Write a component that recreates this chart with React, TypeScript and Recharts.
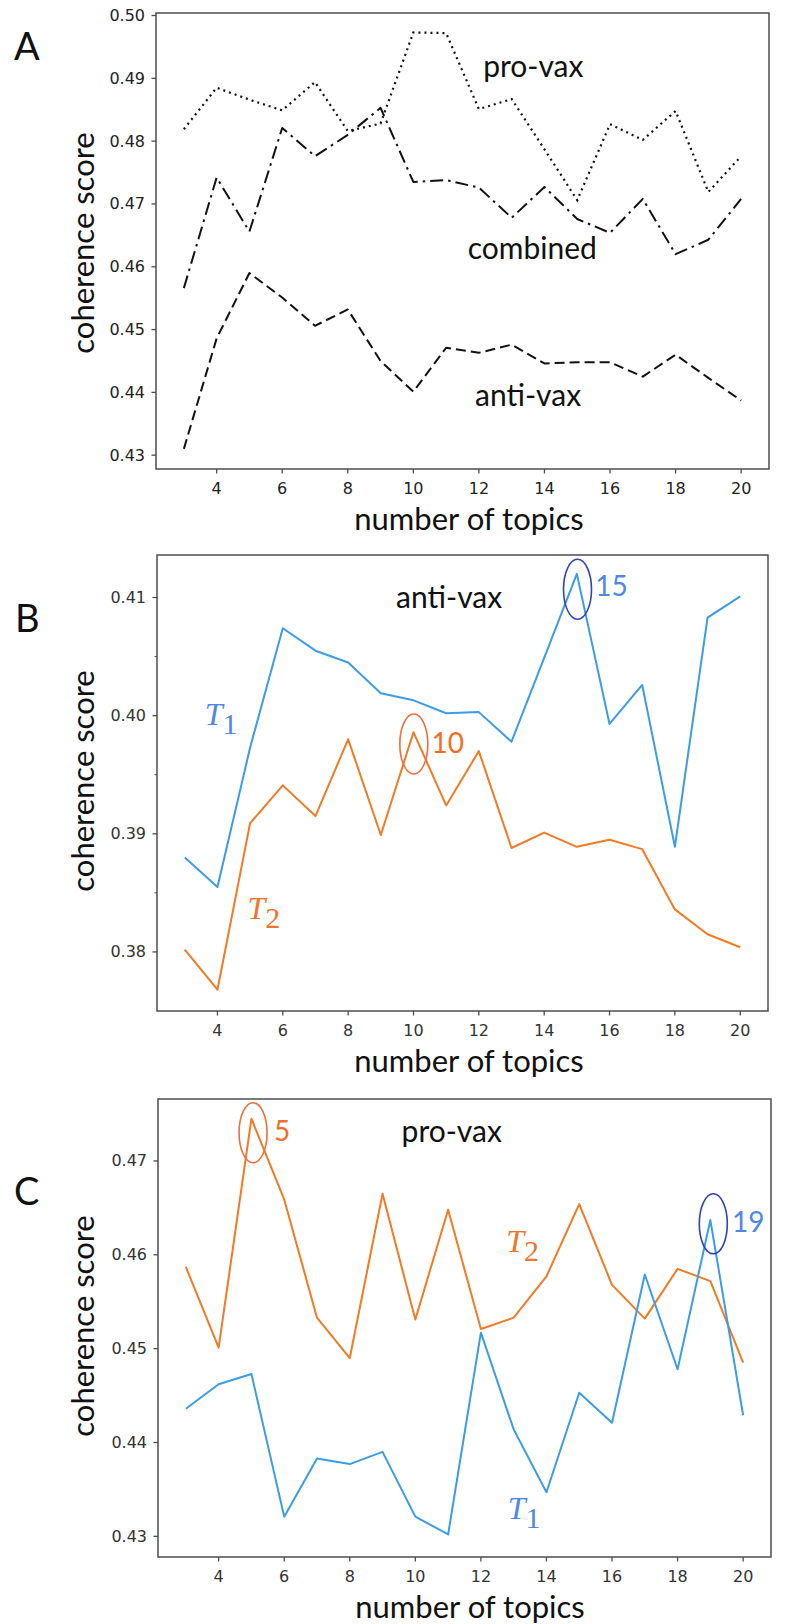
import { Line, LineChart, ReferenceArea, ReferenceDot, XAxis, YAxis } from "recharts";

// x values shared by all three panels
const topics = [3, 4, 5, 6, 7, 8, 9, 10, 11, 12, 13, 14, 15, 16, 17, 18, 19, 20];
const xTicks = [4, 6, 8, 10, 12, 14, 16, 18, 20];

// Panel A: coherence per corpus
const aProVax = [0.4819, 0.4885, 0.4866, 0.4849, 0.4894, 0.4816, 0.4828, 0.4973, 0.4972, 0.4851, 0.4867, 0.4787, 0.4706, 0.4827, 0.4802, 0.4848, 0.4719, 0.4776];
const aCombined = [0.4566, 0.4742, 0.4656, 0.4821, 0.4776, 0.4810, 0.4853, 0.4735, 0.4738, 0.4726, 0.4678, 0.4727, 0.4676, 0.4654, 0.4708, 0.4620, 0.4643, 0.4708];
const aAntiVax = [0.4310, 0.4486, 0.4590, 0.4551, 0.4506, 0.4532, 0.4450, 0.4401, 0.4471, 0.4463, 0.4476, 0.4446, 0.4448, 0.4448, 0.4425, 0.4460, 0.4423, 0.4387];
const aTicks = [0.43, 0.44, 0.45, 0.46, 0.47, 0.48, 0.49, 0.5];

// Panel B: anti-vax, T1 / T2
const bT1 = [0.3880, 0.3855, 0.3973, 0.4074, 0.4055, 0.4045, 0.4019, 0.4013, 0.4002, 0.4003, 0.3978, 0.4049, 0.4120, 0.3993, 0.4026, 0.3889, 0.4083, 0.4101];
const bT2 = [0.3802, 0.3768, 0.3909, 0.3941, 0.3915, 0.3980, 0.3899, 0.3986, 0.3924, 0.3970, 0.3888, 0.3901, 0.3889, 0.3895, 0.3887, 0.3836, 0.3815, 0.3804];
const bTicks = [0.38, 0.39, 0.4, 0.41];
const bMinorTicks = [0.385, 0.395, 0.405];

// Panel C: pro-vax, T1 / T2
const cT1 = [0.4436, 0.4462, 0.4473, 0.4321, 0.4383, 0.4377, 0.4390, 0.4321, 0.4302, 0.4517, 0.4414, 0.4347, 0.4453, 0.4421, 0.4579, 0.4478, 0.4637, 0.4429];
const cT2 = [0.4587, 0.4501, 0.4745, 0.4659, 0.4533, 0.4490, 0.4665, 0.4531, 0.4648, 0.4521, 0.4533, 0.4577, 0.4654, 0.4568, 0.4532, 0.4585, 0.4572, 0.4485];
const cTicks = [0.43, 0.44, 0.45, 0.46, 0.47];

const xDomain: [number, number] = [2.15, 20.85];
const spine = "#4d4d4d";
const blue = "#3d9ce6";
const orange = "#f27a24";
const labelFont = "Lato, 'Open Sans', sans-serif";

const aData = topics.map((t, i) => ({ t, pro: aProVax[i], comb: aCombined[i], anti: aAntiVax[i] }));
const bData = topics.map((t, i) => ({ t, t1: bT1[i], t2: bT2[i] }));
const cData = topics.map((t, i) => ({ t, t1: cT1[i], t2: cT2[i] }));

function XTick({ x, y, payload, color }: any) {
  return (
    <g>
      <line x1={x} y1={y} x2={x} y2={y + 4.5} stroke={spine} strokeWidth={1.3} />
      <text x={x} y={y + 19} textAnchor="middle" dominantBaseline="central" fontFamily="DejaVu Sans" fontSize={16} fill={color}>
        {payload.value}
      </text>
    </g>
  );
}

function YTick({ x, y, payload, color, minor }: any) {
  const isMinor = minor?.some((m: number) => Math.abs(m - payload.value) < 1e-6);
  if (isMinor) return <line x1={x} y1={y} x2={x - 2.5} y2={y} stroke={spine} strokeWidth={1} />;
  return (
    <g>
      <line x1={x} y1={y} x2={x - 4.5} y2={y} stroke={spine} strokeWidth={1.3} />
      <text x={x - 11} y={y} textAnchor="end" dominantBaseline="central" fontFamily="DejaVu Sans" fontSize={16} fill={color}>
        {Number(payload.value).toFixed(2)}
      </text>
    </g>
  );
}

const word = (text: string, color = "#111", anchor = "middle", size = 30) => (p: any) => (
  <text x={p.cx} y={p.cy} textAnchor={anchor} dominantBaseline="central" fontFamily={labelFont} fontSize={size} fill={color}>
    {text}
  </text>
);

// italic T with a large upright subscript, like the math labels in the figure
const tLabel = (sub: string, color: string) => (p: any) => (
  <text x={p.cx} y={p.cy} fontFamily="'Liberation Serif', serif" fontSize={32} fill={color}>
    <tspan fontStyle="italic">T</tspan>
    <tspan fontSize={30} dy={9}>{sub}</tspan>
  </text>
);

const ring = (color: string) => (p: any) => (
  <ellipse cx={p.cx} cy={p.cy} rx={14} ry={30} fill="none" stroke={color} strokeWidth={1.6} />
);

export default function App() {
  return (
    <div style={{ position: "absolute", top: 0, left: 0, width: 791, height: 1624, background: "#fff" }}>
      {/* A */}
      <div style={{ position: "absolute", top: 0, left: 0 }}>
        <LineChart width={791} height={540} data={aData} margin={{ top: 13, right: 22, bottom: 41, left: 96 }}>
          <XAxis dataKey="t" type="number" domain={xDomain} ticks={xTicks} allowDataOverflow axisLine={false} tickLine={false} tickSize={0} tickMargin={0} height={30} tick={(p: any) => <XTick {...p} color="#222" />} />
          <YAxis type="number" domain={[0.4278, 0.5004]} ticks={aTicks} allowDataOverflow axisLine={false} tickLine={false} tickSize={0} tickMargin={0} width={60} tick={(p: any) => <YTick {...p} color="#222" />} />
          <ReferenceArea x1={xDomain[0]} x2={xDomain[1]} y1={0.4278} y2={0.5004} fill="none" stroke={spine} strokeWidth={1.5} ifOverflow="visible" />
          <Line dataKey="pro" stroke="#111" strokeWidth={2.2} strokeDasharray="2 4" dot={false} activeDot={false} isAnimationActive={false} />
          <Line dataKey="comb" stroke="#111" strokeWidth={2} strokeDasharray="13 5 2.5 5" strokeLinejoin="round" dot={false} activeDot={false} isAnimationActive={false} />
          <Line dataKey="anti" stroke="#111" strokeWidth={2} strokeDasharray="10 5" strokeLinejoin="round" dot={false} activeDot={false} isAnimationActive={false} />
          <ReferenceDot x={13.66} y={0.4922} r={0} ifOverflow="visible" shape={word("pro-vax")} />
          <ReferenceDot x={13.63} y={0.4632} r={0} ifOverflow="visible" shape={word("combined")} />
          <ReferenceDot x={13.5} y={0.4397} r={0} ifOverflow="visible" shape={word("anti-vax")} />
        </LineChart>
      </div>

      {/* B */}
      <div style={{ position: "absolute", top: 540, left: 0 }}>
        <LineChart width={791} height={540} data={bData} margin={{ top: 15, right: 23, bottom: 39, left: 97 }}>
          <XAxis dataKey="t" type="number" domain={xDomain} ticks={xTicks} allowDataOverflow axisLine={false} tickLine={false} tickSize={0} tickMargin={0} height={30} tick={(p: any) => <XTick {...p} color="#333" />} />
          <YAxis type="number" domain={[0.375, 0.4136]} ticks={[...bTicks, ...bMinorTicks].sort((a, b) => a - b)} allowDataOverflow axisLine={false} tickLine={false} tickSize={0} tickMargin={0} width={60} tick={(p: any) => <YTick {...p} color="#333" minor={bMinorTicks} />} />
          <ReferenceArea x1={xDomain[0]} x2={xDomain[1]} y1={0.375} y2={0.4136} fill="none" stroke={spine} strokeWidth={1.5} ifOverflow="visible" />
          <Line dataKey="t1" stroke={blue} strokeWidth={2} strokeLinejoin="round" dot={false} activeDot={false} isAnimationActive={false} />
          <Line dataKey="t2" stroke={orange} strokeWidth={2} strokeLinejoin="round" dot={false} activeDot={false} isAnimationActive={false} />
          <ReferenceDot x={11.09} y={0.4101} r={0} ifOverflow="visible" shape={word("anti-vax")} />
          <ReferenceDot x={15.02} y={0.4107} r={0} ifOverflow="visible" shape={ring("#2c44b8")} />
          <ReferenceDot x={15.56} y={0.4111} r={0} ifOverflow="visible" shape={word("15", "#4f87e8", "start", 28)} />
          <ReferenceDot x={10.01} y={0.3976} r={0} ifOverflow="visible" shape={ring("#ef6f3a")} />
          <ReferenceDot x={10.55} y={0.3978} r={0} ifOverflow="visible" shape={word("10", "#ef6f2a", "start", 28)} />
          <ReferenceDot x={3.61} y={0.3992} r={0} ifOverflow="visible" shape={tLabel("1", "#4f87e8")} />
          <ReferenceDot x={4.92} y={0.3828} r={0} ifOverflow="visible" shape={tLabel("2", "#f2742a")} />
        </LineChart>
      </div>

      {/* C */}
      <div style={{ position: "absolute", top: 1080, left: 0 }}>
        <LineChart width={791} height={544} data={cData} margin={{ top: 19, right: 20, bottom: 37, left: 98 }}>
          <XAxis dataKey="t" type="number" domain={xDomain} ticks={xTicks} allowDataOverflow axisLine={false} tickLine={false} tickSize={0} tickMargin={0} height={30} tick={(p: any) => <XTick {...p} color="#333" />} />
          <YAxis type="number" domain={[0.4278, 0.4766]} ticks={cTicks} allowDataOverflow axisLine={false} tickLine={false} tickSize={0} tickMargin={0} width={60} tick={(p: any) => <YTick {...p} color="#333" />} />
          <ReferenceArea x1={xDomain[0]} x2={xDomain[1]} y1={0.4278} y2={0.4766} fill="none" stroke={spine} strokeWidth={1.5} ifOverflow="visible" />
          <Line dataKey="t2" stroke={orange} strokeWidth={2} strokeLinejoin="round" dot={false} activeDot={false} isAnimationActive={false} />
          <Line dataKey="t1" stroke={blue} strokeWidth={2} strokeLinejoin="round" dot={false} activeDot={false} isAnimationActive={false} />
          <ReferenceDot x={11.11} y={0.4733} r={0} ifOverflow="visible" shape={word("pro-vax")} />
          <ReferenceDot x={5.05} y={0.473} r={0} ifOverflow="visible" shape={ring("#ef6f3a")} />
          <ReferenceDot x={5.69} y={0.4733} r={0} ifOverflow="visible" shape={word("5", "#ef6f2a", "start", 28)} />
          <ReferenceDot x={19.09} y={0.4633} r={0} ifOverflow="visible" shape={ring("#2c44b8")} />
          <ReferenceDot x={19.66} y={0.4636} r={0} ifOverflow="visible" shape={word("19", "#4f87e8", "start", 28)} />
          <ReferenceDot x={12.77} y={0.4603} r={0} ifOverflow="visible" shape={tLabel("2", "#f2742a")} />
          <ReferenceDot x={12.82} y={0.4318} r={0} ifOverflow="visible" shape={tLabel("1", "#4f87e8")} />
        </LineChart>
      </div>

      {/* panel letters and axis titles */}
      <svg width={791} height={1624} style={{ position: "absolute", top: 0, left: 0, pointerEvents: "none" }}>
        <g fontFamily={labelFont} fill="#111">
          <text x={14} y={60} fontSize={38}>A</text>
          <text x={15} y={632} fontSize={38}>B</text>
          <text x={14} y={1205} fontSize={38}>C</text>
          <text x={82} y={243} fontSize={31} textAnchor="middle" dominantBaseline="central" transform="rotate(-90 82 243)">coherence score</text>
          <text x={82} y={781} fontSize={31} textAnchor="middle" dominantBaseline="central" transform="rotate(-90 82 781)">coherence score</text>
          <text x={82} y={1326} fontSize={31} textAnchor="middle" dominantBaseline="central" transform="rotate(-90 82 1326)">coherence score</text>
          <text x={469} y={518} fontSize={31} textAnchor="middle" dominantBaseline="central">number of topics</text>
          <text x={469} y={1060} fontSize={31} textAnchor="middle" dominantBaseline="central">number of topics</text>
          <text x={470} y={1606} fontSize={31} textAnchor="middle" dominantBaseline="central">number of topics</text>
        </g>
      </svg>
    </div>
  );
}
